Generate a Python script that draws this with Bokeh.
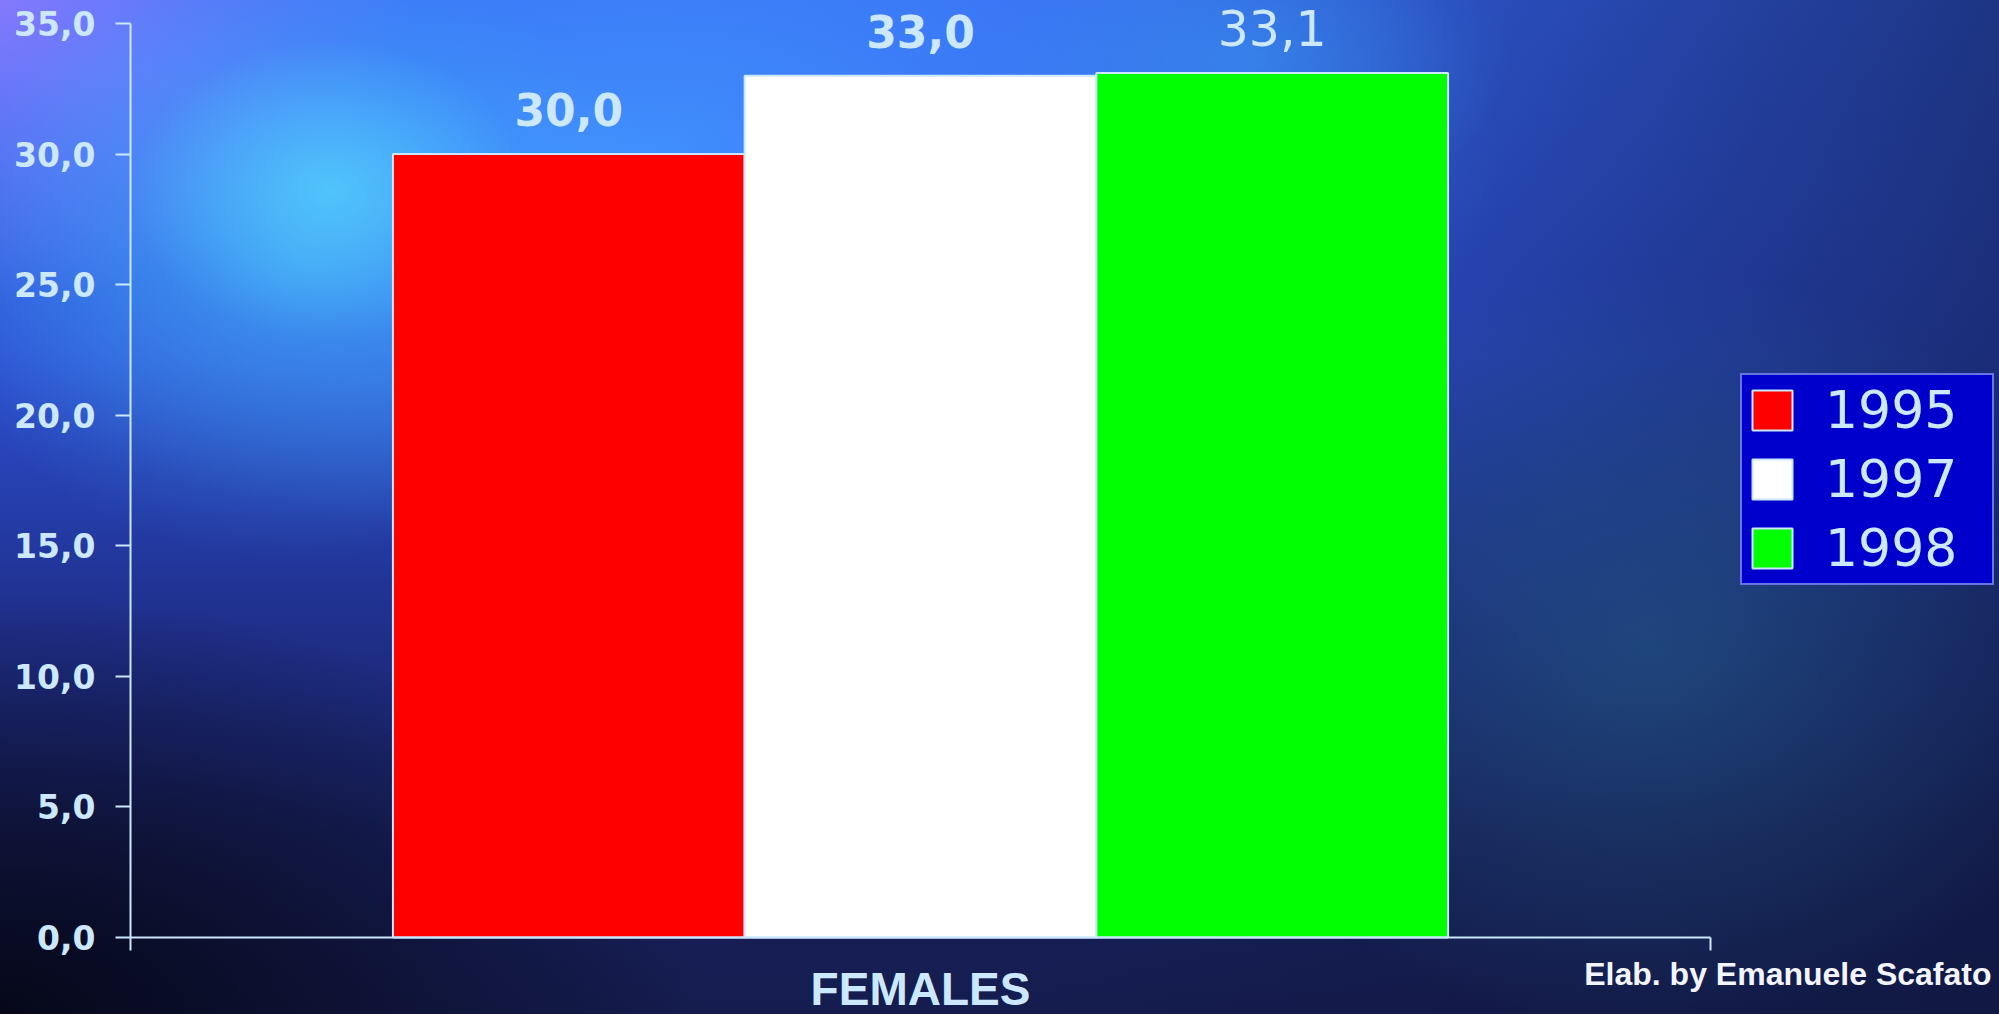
from bokeh.plotting import figure
from bokeh.models import (Range1d, FixedTicker, Legend, LegendItem, LabelSet, Label,
                          ColumnDataSource)
from bokeh.transform import dodge
from bokeh.core.properties import value
from bokeh.embed import file_html
from bokeh.resources import INLINE

# ---------------- data ----------------
categories = ["FEMALES"]
years = ["1995", "1997", "1998"]
values = [30.0, 33.0, 33.1]
value_labels = ["30,0", "33,0", "33,1"]
y_ticks = [0, 5, 10, 15, 20, 25, 30, 35]
y_tick_labels = ["0,0", "5,0", "10,0", "15,0", "20,0", "25,0", "30,0", "35,0"]
credit = "Elab. by Emanuele Scafato"

# ---------------- style / layout ----------------
bar_colors = ["#ff0000", "#ffffff", "#00ff00"]
offsets = [-0.2226, 0.0, 0.2226]
bar_width = 0.2226
light = "#cce8ff"

W, H = 1999, 1014
AX_LEFT, AX_RIGHT, AX_BOTTOM, AX_TOP = 130, 1710, 937, 23   # axis box in pixels
Y_MAX = 35
n_cat = len(categories)
cat_centers = [i + 0.5 for i in range(n_cat)]
cat_bounds = [i for i in range(n_cat + 1)]

# data ranges chosen so that the frame covers the whole canvas
xpx = (AX_RIGHT - AX_LEFT) / n_cat
ypx = (AX_BOTTOM - AX_TOP) / Y_MAX
x_range = Range1d(-AX_LEFT / xpx, (W - AX_LEFT) / xpx)
y_range = Range1d(-(H - AX_BOTTOM) / ypx, AX_BOTTOM / ypx)

p = figure(width=W, height=H, x_range=x_range, y_range=y_range,
           output_backend="svg", toolbar_location=None, min_border=0)

p.background_fill_alpha = 0
p.border_fill_alpha = 0
p.outline_line_color = None
p.grid.visible = False

p.styles = {
    "background": (
        "radial-gradient(ellipse 200px 150px at 330px 190px, rgba(95,235,255,0.55), rgba(95,235,255,0) 100%),"
        "radial-gradient(ellipse 380px 300px at 300px 260px, rgba(70,200,255,0.45), rgba(70,200,255,0) 100%),"
        "radial-gradient(ellipse 260px 160px at 1250px 60px, rgba(60,170,255,0.4), rgba(60,170,255,0) 100%),"
        "radial-gradient(ellipse 850px 400px at 650px 150px, rgba(65,145,255,0.95), rgba(65,145,255,0) 100%),"
        "radial-gradient(ellipse 420px 300px at 0px 0px, rgba(160,120,255,0.85), rgba(160,120,255,0) 100%),"
        "radial-gradient(ellipse 450px 380px at 1650px 650px, rgba(40,110,150,0.45), rgba(40,110,150,0) 100%),"
        "radial-gradient(ellipse 700px 420px at 0px 1014px, rgba(5,6,22,0.95), rgba(5,6,22,0) 100%),"
        "linear-gradient(to right, rgba(12,18,60,0) 0%, rgba(12,18,60,0) 50%, rgba(14,22,60,0.6) 100%),"
        "linear-gradient(to bottom, #3564f0 0%, #2d4fd2 35%, #1f2f8a 62%, #18215e 82%, #151c4e 100%)"
    ),
}

# bars + value labels
renderers = []
for i, yr in enumerate(years):
    src = ColumnDataSource(dict(cat=[cat_centers[0]], v=[values[i]], lab=[value_labels[i]]))
    r = p.vbar(x=dodge("cat", offsets[i]), top="v", width=bar_width,
               source=src, fill_color=bar_colors[i], line_color=light, line_width=2)
    renderers.append(r)
    bold = i < 2
    ls = LabelSet(x=dodge("cat", offsets[i]), y="v", text="lab",
                  source=src, text_align="center", text_baseline="alphabetic",
                  y_offset=28 if bold else 27, text_color=light,
                  text_font=value("DejaVu Sans"),
                  text_font_style="bold" if bold else "normal",
                  text_font_size="44px" if bold else "49px")
    p.add_layout(ls)

# y axis
ya = p.yaxis[0]
ya.fixed_location = 0
ya.bounds = (0, Y_MAX)
ya.ticker = FixedTicker(ticks=y_ticks)
ya.major_label_overrides = {t: l for t, l in zip(y_ticks, y_tick_labels)}
ya.axis_line_color = light
ya.axis_line_width = 2
ya.major_tick_line_color = light
ya.major_tick_line_width = 2
ya.major_tick_in = 0
ya.major_tick_out = 15
ya.minor_tick_line_color = None
ya.major_label_standoff = 20
ya.major_label_text_color = light
ya.major_label_text_font = "DejaVu Sans"
ya.major_label_text_font_style = "bold"
ya.major_label_text_font_size = "33px"

# x axis: category label at the centre, ticks at category boundaries
xa = p.xaxis[0]
xa.fixed_location = 0
xa.bounds = (0, n_cat)
xa.ticker = FixedTicker(ticks=cat_centers, minor_ticks=cat_bounds)
xa.major_label_overrides = {c: n for c, n in zip(cat_centers, categories)}
xa.axis_line_color = light
xa.axis_line_width = 2
xa.major_tick_line_color = None
xa.major_tick_in = 0
xa.major_tick_out = 13
xa.minor_tick_line_color = light
xa.minor_tick_line_width = 2
xa.minor_tick_in = 0
xa.minor_tick_out = 13
xa.major_label_standoff = 12
xa.major_label_text_color = light
xa.major_label_text_font = "Liberation Sans"
xa.major_label_text_font_style = "bold"
xa.major_label_text_font_size = "46px"

# credit
p.add_layout(Label(x=(1991 - AX_LEFT) / xpx, y=-(973 - AX_BOTTOM) / ypx, text=credit,
                   text_align="right", text_baseline="alphabetic",
                   text_color="#f2f5ff", text_font="Liberation Sans",
                   text_font_style="bold", text_font_size="32px"))

# legend
legend = Legend(items=[LegendItem(label=yr, renderers=[r]) for yr, r in zip(years, renderers)],
                location=(1740, H - 585))
legend.background_fill_color = "#0000cc"
legend.background_fill_alpha = 1
legend.border_line_color = light
legend.border_line_width = 2
legend.label_text_color = light
legend.label_text_font = "DejaVu Sans"
legend.label_text_font_size = "52px"
legend.glyph_width = 50
legend.glyph_height = 50
legend.label_standoff = 28
legend.label_width = 162
legend.spacing = 9
legend.padding = 5
legend.margin = 0
p.add_layout(legend)

open("out.html", "w").write(file_html(p, INLINE))
